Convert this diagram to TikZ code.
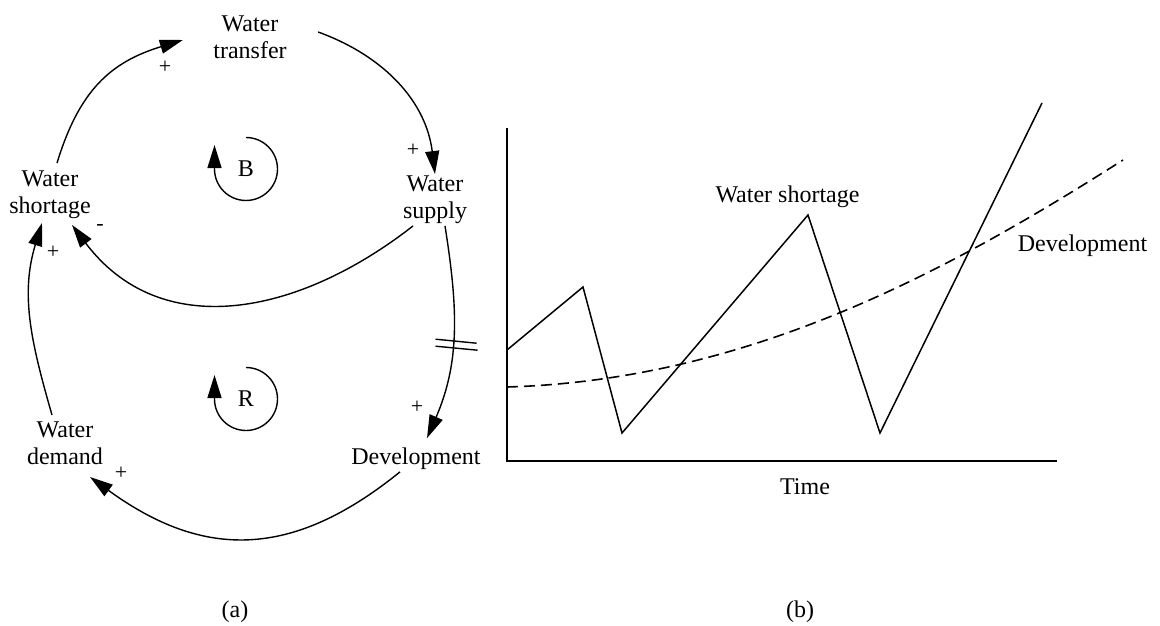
\documentclass[tikz,border=0pt]{standalone}
\usepackage{fontspec}
\setmainfont{Liberation Serif}
\usetikzlibrary{arrows.meta,positioning}
\tikzset{
  var/.style={align=center, inner sep=2pt, outer sep=0pt,
    font=\fontsize{24}{27}\selectfont},
  pol/.style={inner sep=0pt, font=\fontsize{22}{24}\selectfont},
  link/.style={-{Triangle[length=23pt,width=14pt]}, line width=1.4pt},
  loopmark/.style={inner sep=0pt, font=\fontsize{24}{27}\selectfont},
  loopline/.style={-{Triangle[length=23pt,width=14pt]}, line width=1.4pt},
  delay/.style={line width=1.4pt},
  axis/.style={line width=1.6pt},
  series/.style={line width=1.5pt},
  trend/.style={line width=1.6pt, dash pattern=on 11pt off 6pt},
  caption/.style={font=\fontsize{24}{27}\selectfont},
}
\begin{document}
\begin{tikzpicture}[x=1pt,y=1pt]
  \useasboundingbox (0,0) rectangle (1160,-626);
  % (a) causal loop diagram
  \node[var] (trans)  at (250,-37.5) {Water\\transfer};
  \node[var] (short)  at (50,-195)   {Water\\shortage};
  \node[var] (supply) at (435,-200)  {Water\\supply};
  \node[var] (demand) at (65,-443.5) {Water\\demand};
  \node[var] (dev)    at (416,-459)  {Development};
  % balancing loop
  \draw[link] ([shift={(7,6)}]short.north) to[out=73,in=197,looseness=1.1]
    ([shift={(-28.5,-2.5)}]trans.west);
  \draw[link] ([shift={(29.5,5.5)}]trans.east) to[out=-20,in=97] (supply.north);
  \draw[link] ([xshift=-22pt]supply.south) to[out=-142,in=-53,looseness=1.1]
    ([shift={(22,-4)}]short.south);
  % reinforcing loop, with delay on supply -> development
  \draw[link] ([xshift=10pt]supply.south) to[out=-81,in=66.5] coordinate[pos=0.55] (dly)
    ([shift={(11,8)}]dev.north);
  \draw[delay] ([shift={(-17,5)}]dly) -- ([shift={(24,1)}]dly);
  \draw[delay] ([shift={(-17,-2)}]dly) -- ([shift={(25,-6)}]dly);
  \draw[link] ([xshift=-16pt]dev.south) to[out=-141,in=-36,looseness=1.15]
    ([shift={(25,-10)}]demand.south);
  \draw[link] ([shift={(-13,5)}]demand.north) to[out=106,in=253]
    ([shift={(-8,-2)}]short.south);
  % polarities
  \node[pol] (sTrans)  at (165,-67)  {+};
  \node[pol] (sSupply) at (413,-150) {+};
  \node[pol] (sShort)  at (100,-227) {-};
  \node[pol] (sShortB) at (53,-252)  {+};
  \node[pol] (sDev)    at (417,-407) {+};
  \node[pol] (sDemand) at (121,-473) {+};
  % loop markers
  \node[loopmark] (loopB) at (246,-169) {B};
  \draw[loopline] ([yshift=31.5pt]loopB.center) arc[start angle=90,end angle=-180,radius=31.5]
    -- ++(0,24);
  \node[loopmark] (loopR) at (246,-399) {R};
  \draw[loopline] ([yshift=31.5pt]loopR.center) arc[start angle=90,end angle=-180,radius=31.5]
    -- ++(0,24);
  % (b) behaviour over time
  \draw[axis] (507,-128) -- (507,-461) -- (1057,-461);
  \draw[series] (507,-350) -- (583,-287) -- (622,-433) -- (808,-215) -- (880,-433) -- (1042,-103);
  \draw[trend] (507,-387) .. controls (750,-380) and (950,-270) .. (1123,-160);
  \node[caption] (lblShort) at (787.5,-197) {Water shortage};
  \node[caption] (lblDev)   at (1082.5,-246) {Development};
  \node[caption] (lblTime)  at (805,-487) {Time};
  % panel captions
  \node[caption] (capA) at (235,-612) {(a)};
  \node[caption] (capB) at (800,-612) {(b)};
\end{tikzpicture}
\end{document}
